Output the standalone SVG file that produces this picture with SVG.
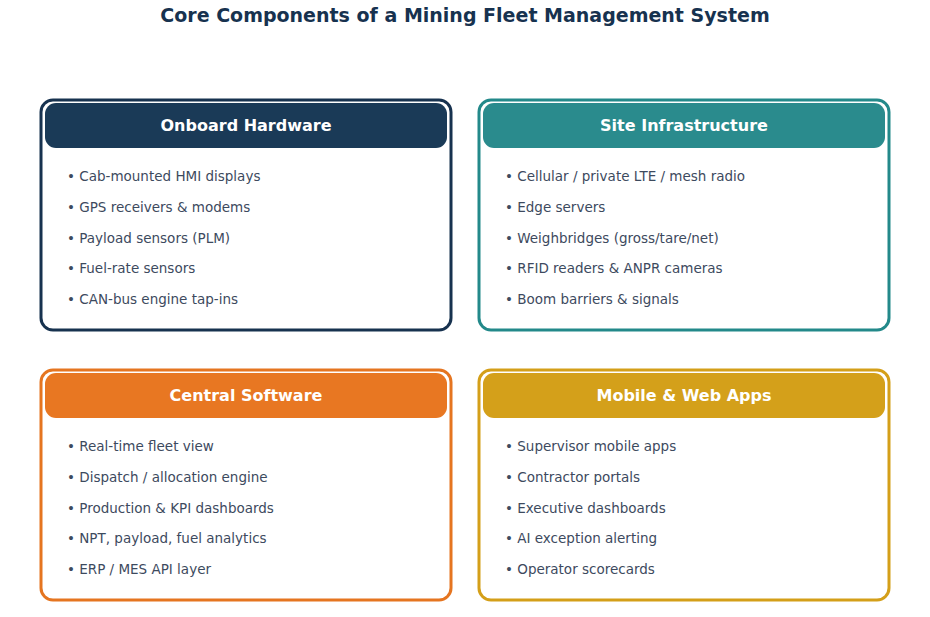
<svg xmlns="http://www.w3.org/2000/svg" width="930" height="617" viewBox="0 0 930 617">
<style>
text{font-family:"DejaVu Sans",sans-serif}
.title{font-size:19px;font-weight:bold;fill:#17324f}
.hd{font-size:16px;font-weight:bold;fill:#fff}
.it{font-size:13.5px;fill:#3d4a5e}
.box{fill:#fff;stroke-width:3}
</style>
<rect width="930" height="617" fill="#fff"/>
<text class="title" x="465" y="22" text-anchor="middle">Core Components of a Mining Fleet Management System</text>
<g id="onboard">
<rect class="box" x="41" y="100" width="410" height="230" rx="12" stroke="#17324f"/>
<rect x="45" y="103" width="402" height="45" rx="11" fill="#1a3a57"/>
<text class="hd" x="246" y="131" text-anchor="middle">Onboard Hardware</text>
<g class="it"><text x="67" y="181">•  Cab-mounted HMI displays</text><text x="67" y="212">•  GPS receivers &amp; modems</text><text x="67" y="243">•  Payload sensors (PLM)</text><text x="67" y="273">•  Fuel-rate sensors</text><text x="67" y="304">•  CAN-bus engine tap-ins</text></g>
</g>
<g id="site">
<rect class="box" x="479" y="100" width="410" height="230" rx="12" stroke="#23898a"/>
<rect x="483" y="103" width="402" height="45" rx="11" fill="#2a8b8d"/>
<text class="hd" x="684" y="131" text-anchor="middle">Site Infrastructure</text>
<g class="it"><text x="505" y="181">•  Cellular / private LTE / mesh radio</text><text x="505" y="212">•  Edge servers</text><text x="505" y="243">•  Weighbridges (gross/tare/net)</text><text x="505" y="273">•  RFID readers &amp; ANPR cameras</text><text x="505" y="304">•  Boom barriers &amp; signals</text></g>
</g>
<g id="central">
<rect class="box" x="41" y="370" width="410" height="230" rx="12" stroke="#e57520"/>
<rect x="45" y="373" width="402" height="45" rx="11" fill="#e87722"/>
<text class="hd" x="246" y="401" text-anchor="middle">Central Software</text>
<g class="it"><text x="67" y="451">•  Real-time fleet view</text><text x="67" y="482">•  Dispatch / allocation engine</text><text x="67" y="513">•  Production &amp; KPI dashboards</text><text x="67" y="543">•  NPT, payload, fuel analytics</text><text x="67" y="574">•  ERP / MES API layer</text></g>
</g>
<g id="mobile">
<rect class="box" x="479" y="370" width="410" height="230" rx="12" stroke="#d49f19"/>
<rect x="483" y="373" width="402" height="45" rx="11" fill="#d4a01a"/>
<text class="hd" x="684" y="401" text-anchor="middle">Mobile &amp; Web Apps</text>
<g class="it"><text x="505" y="451">•  Supervisor mobile apps</text><text x="505" y="482">•  Contractor portals</text><text x="505" y="513">•  Executive dashboards</text><text x="505" y="543">•  AI exception alerting</text><text x="505" y="574">•  Operator scorecards</text></g>
</g>
<g id="connectors"></g>
</svg>
